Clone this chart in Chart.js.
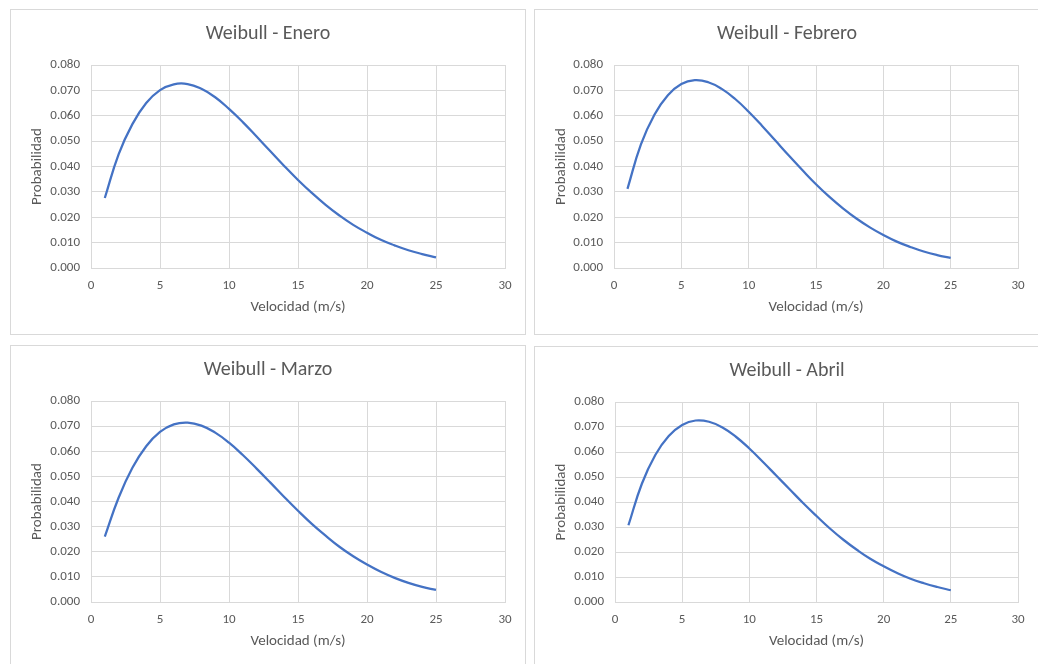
<!DOCTYPE html>
<html lang="es">
<head>
<meta charset="utf-8">
<title>Distribución de Weibull por mes</title>
<script src="https://cdn.jsdelivr.net/npm/chart.js@4.4.1/dist/chart.umd.min.js"></script>
<style>
  html, body { margin: 0; padding: 0; background: #ffffff; width: 1038px; height: 664px; overflow: hidden; }
  .panel { position: absolute; border: 1px solid #D9D9D9; background: #ffffff; overflow: hidden; }
  .panel canvas { display: block; }
</style>
</head>
<body>
<div class="panel" style="left:10px; top:9px; width:514px; height:324px;"><canvas id="chartEnero" width="514" height="324"></canvas></div>
<div class="panel" style="left:534px; top:9px; width:504px; height:324px;"><canvas id="chartFebrero" width="504" height="324"></canvas></div>
<div class="panel" style="left:10px; top:345px; width:514px; height:322px;"><canvas id="chartMarzo" width="514" height="322"></canvas></div>
<div class="panel" style="left:534px; top:346px; width:504px; height:321px;"><canvas id="chartAbril" width="504" height="321"></canvas></div>
<script>
// Velocidad del viento (m/s) y probabilidad de Weibull para cada mes
const velocidad = [1, 2, 3, 4, 5, 6, 7, 8, 9, 10, 11, 12, 13, 14, 15, 16, 17, 18, 19, 20, 21, 22, 23, 24, 25];

const probEnero = [0.0276, 0.0448, 0.0567, 0.0650, 0.0701, 0.0724, 0.0725, 0.0706, 0.0673, 0.0627,
                   0.0575, 0.0518, 0.0460, 0.0402, 0.0347, 0.0296, 0.0249, 0.0207, 0.0170, 0.0139,
                   0.0111, 0.0089, 0.0070, 0.0055, 0.0042];

const probFebrero = [0.0312, 0.0487, 0.0604, 0.0681, 0.0725, 0.0740, 0.0732, 0.0706, 0.0666, 0.0616,
                     0.0560, 0.0501, 0.0442, 0.0385, 0.0330, 0.0280, 0.0235, 0.0195, 0.0160, 0.0130,
                     0.0104, 0.0083, 0.0065, 0.0051, 0.0040];

const probMarzo = [0.0260, 0.0415, 0.0534, 0.0620, 0.0677, 0.0707, 0.0714, 0.0702, 0.0674, 0.0634,
                   0.0585, 0.0531, 0.0475, 0.0418, 0.0363, 0.0311, 0.0264, 0.0220, 0.0182, 0.0149,
                   0.0120, 0.0096, 0.0076, 0.0060, 0.0048];

const probAbril = [0.0307, 0.0473, 0.0588, 0.0664, 0.0708, 0.0726, 0.0721, 0.0698, 0.0661, 0.0614,
                   0.0561, 0.0506, 0.0451, 0.0396, 0.0344, 0.0294, 0.0249, 0.0209, 0.0173, 0.0143,
                   0.0116, 0.0093, 0.0075, 0.0060, 0.0047];

const titulos = ['Weibull - Enero', 'Weibull - Febrero', 'Weibull - Marzo', 'Weibull - Abril'];
const tituloX = 'Velocidad (m/s)';
const tituloY = 'Probabilidad';
const ticksX = [0, 5, 10, 15, 20, 25, 30];
const ticksY = [0.000, 0.010, 0.020, 0.030, 0.040, 0.050, 0.060, 0.070, 0.080];

// Geometría de cada gráfico: ancho del eje Y y margen derecho del área de trazado
const paneles = [
  { canvas: 'chartEnero',   serie: probEnero,   titulo: titulos[0], ejeY: 80, derecha: 20 },
  { canvas: 'chartFebrero', serie: probFebrero, titulo: titulos[1], ejeY: 79, derecha: 21 },
  { canvas: 'chartMarzo',   serie: probMarzo,   titulo: titulos[2], ejeY: 80, derecha: 20 },
  { canvas: 'chartAbril',   serie: probAbril,   titulo: titulos[3], ejeY: 80, derecha: 21 }
];

const FUENTE = 'Calibri, Carlito, Lato, sans-serif';
const GRIS_TEXTO = '#595959';
const GRIS_REJILLA = '#D9D9D9';
const AZUL = '#4472C4';

function crearGrafico(p) {
  const ctx = document.getElementById(p.canvas);
  const puntos = velocidad.map((v, i) => ({ x: v, y: p.serie[i] }));
  return new Chart(ctx, {
    type: 'line',
    data: {
      datasets: [{
        data: puntos,
        borderColor: AZUL,
        borderWidth: 2.25,
        pointRadius: 0,
        pointHoverRadius: 0,
        fill: false,
        tension: 0.45,
        clip: false
      }]
    },
    options: {
      responsive: false,
      animation: false,
      events: [],
      layout: { padding: 0 },
      plugins: {
        legend: { display: false },
        tooltip: { enabled: false },
        title: {
          display: true,
          text: p.titulo,
          color: GRIS_TEXTO,
          font: { family: FUENTE, size: 20, weight: 'normal', lineHeight: 1.2 },
          padding: { top: 12, bottom: 19 }
        }
      },
      scales: {
        x: {
          type: 'linear',
          min: 0,
          max: 30,
          afterBuildTicks: (s) => { s.ticks = ticksX.map(v => ({ value: v })); },
          afterFit: (s) => { s.height = 66; },
          grid: { color: GRIS_REJILLA, lineWidth: 1, drawTicks: false },
          border: { color: GRIS_REJILLA, width: 1 },
          ticks: {
            color: GRIS_TEXTO,
            padding: 10,
            maxRotation: 0,
            font: { family: FUENTE, size: 13 },
            callback: (v) => String(v)
          },
          title: {
            display: true,
            text: tituloX,
            color: GRIS_TEXTO,
            font: { family: FUENTE, size: 15, lineHeight: 1.2 },
            padding: { top: 0, bottom: 18 }
          }
        },
        y: {
          type: 'linear',
          min: 0,
          max: 0.08,
          afterBuildTicks: (s) => { s.ticks = ticksY.map(v => ({ value: v })); },
          afterFit: (s) => { s.width = p.ejeY; },
          grid: { color: GRIS_REJILLA, lineWidth: 1, drawTicks: false },
          border: { color: GRIS_REJILLA, width: 1 },
          ticks: {
            color: GRIS_TEXTO,
            padding: 11,
            font: { family: FUENTE, size: 13 },
            callback: (v) => Number(v).toFixed(3)
          },
          title: {
            display: true,
            text: tituloY,
            color: GRIS_TEXTO,
            font: { family: FUENTE, size: 15, lineHeight: 1.2 },
            padding: { top: 17, bottom: 0 }
          }
        },
        margenDerecho: {
          type: 'linear',
          position: 'right',
          display: true,
          grid: { display: false },
          border: { display: false },
          ticks: { display: false },
          afterFit: (s) => { s.width = p.derecha; }
        }
      }
    }
  });
}

paneles.forEach(crearGrafico);
</script>
</body>
</html>
